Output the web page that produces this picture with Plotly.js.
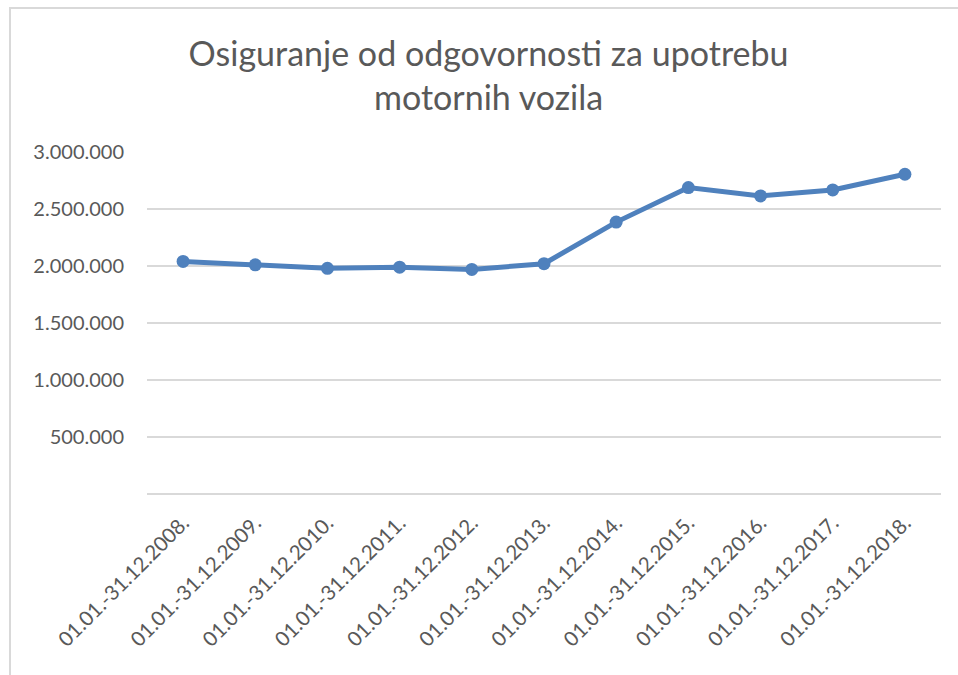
<!DOCTYPE html>
<html>
<head>
<meta charset="utf-8">
<script src="https://cdn.plot.ly/plotly-3.0.1.min.js"></script>
<style>
  html, body { margin: 0; padding: 0; background: #ffffff; }
  #chart { width: 958px; height: 675px; position: relative; }
  #frame { position: absolute; left: 9px; top: 7px; width: 960px; height: 680px;
           border-left: 2px solid #d9d9d9; border-top: 2px solid #d9d9d9; pointer-events: none; }
</style>
</head>
<body>
<div id="chart"></div>
<div id="frame"></div>
<script>
const categories = [
  "01.01.-31.12.2008.", "01.01.-31.12.2009.", "01.01.-31.12.2010.", "01.01.-31.12.2011.",
  "01.01.-31.12.2012.", "01.01.-31.12.2013.", "01.01.-31.12.2014.", "01.01.-31.12.2015.",
  "01.01.-31.12.2016.", "01.01.-31.12.2017.", "01.01.-31.12.2018."
];
const values = [2040000, 2010000, 1980000, 1990000, 1970000, 2020000, 2385000, 2688000, 2615000, 2667000, 2805000];
const yTickVals = [500000, 1000000, 1500000, 2000000, 2500000, 3000000];
const yTickText = ["500.000", "1.000.000", "1.500.000", "2.000.000", "2.500.000", "3.000.000"];
const titleText = "Osiguranje od odgovornosti za upotrebu<br>motornih vozila";

const trace = {
  x: categories,
  y: values,
  type: "scatter",
  mode: "lines+markers",
  line: { color: "#4f81bd", width: 5 },
  marker: { color: "#4f81bd", size: 13 },
  hoverinfo: "x+y"
};

const layout = {
  width: 958,
  height: 675,
  margin: { l: 147, r: 17, t: 152, b: 181 },
  paper_bgcolor: "#ffffff",
  plot_bgcolor: "#ffffff",
  showlegend: false,
  separators: ",.",
  font: { family: "Lato, 'Open Sans', sans-serif", color: "#595959" },
  title: {
    text: titleText,
    font: { family: "Lato, 'Open Sans', sans-serif", size: 34, color: "#595959" },
    x: 0.51,
    xanchor: "center",
    y: 0.902,
    yanchor: "top"
  },
  xaxis: {
    type: "category",
    range: [-0.5, 10.5],
    tickangle: -45,
    showgrid: false,
    zeroline: false,
    showline: false,
    ticks: "",
    ticklabelstandoff: 12,
    tickfont: { size: 20.5, color: "#595959" }
  },
  yaxis: {
    range: [0, 3000000],
    tickvals: yTickVals,
    ticktext: yTickText,
    showgrid: true,
    gridcolor: "#d9d9d9",
    gridwidth: 2,
    zeroline: true,
    zerolinecolor: "#d9d9d9",
    zerolinewidth: 2,
    showline: false,
    ticks: "",
    ticklabelstandoff: 22,
    tickfont: { size: 20, color: "#595959" }
  }
};

Plotly.newPlot("chart", [trace], layout, { displayModeBar: false, staticPlot: true });
</script>
</body>
</html>
